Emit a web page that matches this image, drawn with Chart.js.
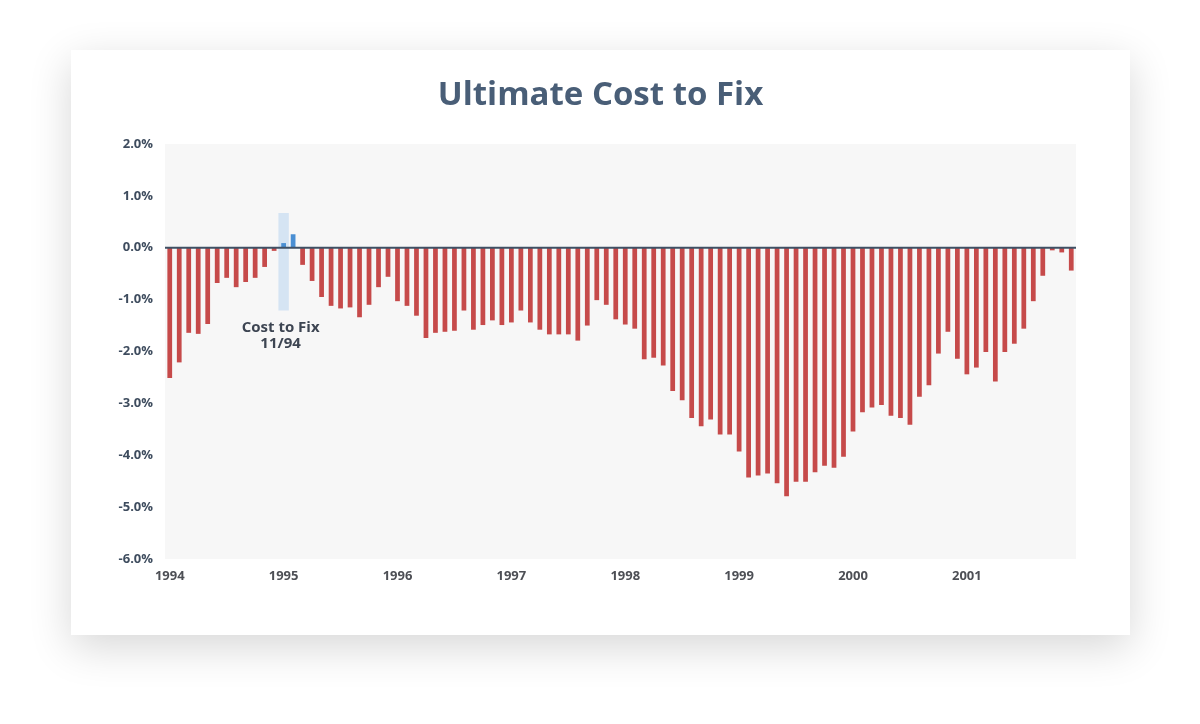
<!DOCTYPE html>
<html>
<head>
<meta charset="utf-8">
<title>Ultimate Cost to Fix</title>
<script src="https://cdn.jsdelivr.net/npm/chart.js@4.4.1/dist/chart.umd.min.js"></script>
<style>
    html, body { margin: 0; padding: 0; background: #ffffff; }
    body { width: 1200px; height: 724px; position: relative; overflow: hidden; }
    .card {
        position: absolute;
        left: 71px; top: 50px;
        width: 1059px; height: 585px;
        background: #ffffff;
        box-shadow: 0 12px 40px rgba(0, 0, 0, 0.16);
    }
    #costChart { display: block; }
</style>
</head>
<body>
<div class="card">
    <canvas id="costChart" width="1059" height="585"></canvas>
</div>
<script>
// Monthly, Jan 1994 .. Dec 2001
const years = ['1994', '1995', '1996', '1997', '1998', '1999', '2000', '2001'];
const months = years.flatMap(y => Array.from({ length: 12 }, (_, m) => (m + 1) + '/' + y));

// Cost to fix (%)
const costValues = [
    -2.51, -2.21, -1.64, -1.66, -1.47, -0.68, -0.58, -0.76, -0.66, -0.58, -0.37, -0.06,
     0.09,  0.26, -0.33, -0.64, -0.95, -1.12, -1.17, -1.15, -1.34, -1.10, -0.76, -0.56,
    -1.03, -1.12, -1.31, -1.74, -1.64, -1.62, -1.60, -1.21, -1.58, -1.49, -1.40, -1.49,
    -1.44, -1.21, -1.44, -1.58, -1.67, -1.67, -1.67, -1.79, -1.50, -1.01, -1.10, -1.38,
    -1.48, -1.56, -2.15, -2.12, -2.27, -2.76, -2.94, -3.28, -3.44, -3.31, -3.60, -3.60,
    -3.93, -4.43, -4.39, -4.35, -4.54, -4.79, -4.51, -4.51, -4.33, -4.20, -4.24, -4.03,
    -3.54, -3.17, -3.08, -3.03, -3.24, -3.28, -3.41, -2.87, -2.65, -2.04, -1.62, -2.14,
    -2.44, -2.31, -2.01, -2.58, -2.01, -1.85, -1.56, -1.03, -0.54, -0.05, -0.09, -0.44
];

// shaded band behind the "Cost to Fix 11/94" month
const highlightIndex = 12;
const highlightRange = [-1.21, 0.67];
const highlightData = months.map((_, i) => i === highlightIndex ? highlightRange : null);
const annotationLines = ['Cost to Fix', '11/94'];

const titleText = 'Ultimate Cost to Fix';
const yTicks = [2, 1, 0, -1, -2, -3, -4, -5, -6];

const RED = '#c64a4a';
const BLUE = '#4a8fd3';
const TICK_FONT = { family: "'Open Sans', sans-serif", size: 13, weight: '700' };

// light grey plot background
const plotBackground = {
    id: 'plotBackground',
    beforeDraw(chart) {
        const { ctx, chartArea: a } = chart;
        ctx.save();
        ctx.fillStyle = '#f7f7f7';
        ctx.fillRect(a.left, a.top, a.right - a.left, a.bottom - a.top);
        ctx.restore();
    }
};

// title centred on the whole card (the built-in one follows the side padding)
const cardTitle = {
    id: 'cardTitle',
    afterDraw(chart) {
        const { ctx, width } = chart;
        ctx.save();
        ctx.fillStyle = '#495e77';
        ctx.font = "700 33px 'Open Sans', sans-serif";
        ctx.textAlign = 'center';
        ctx.textBaseline = 'alphabetic';
        ctx.fillText(titleText, width / 2, 55);
        ctx.restore();
    }
};

// zero line on top of the bars + annotation text
const zeroAndNote = {
    id: 'zeroAndNote',
    afterDatasetsDraw(chart) {
        const { ctx, chartArea: a, scales } = chart;
        const y0 = scales.y.getPixelForValue(0);
        ctx.save();
        ctx.strokeStyle = '#3f5064';
        ctx.lineWidth = 2;
        ctx.beginPath();
        ctx.moveTo(a.left, y0);
        ctx.lineTo(a.right, y0);
        ctx.stroke();

        const x = scales.x.getPixelForValue(highlightIndex) - 3;
        const yTop = scales.y.getPixelForValue(highlightRange[0]) + 17;
        ctx.fillStyle = '#3d4552';
        ctx.font = "700 15px 'Open Sans', sans-serif";
        ctx.textAlign = 'center';
        ctx.textBaseline = 'middle';
        annotationLines.forEach((t, i) => ctx.fillText(t, x, yTop + i * 16));
        ctx.restore();
    }
};

new Chart(document.getElementById('costChart'), {
    type: 'bar',
    data: {
        labels: months,
        datasets: [{
            label: 'Cost to Fix',
            data: costValues,
            backgroundColor: costValues.map(v => v >= 0 ? BLUE : RED),
            categoryPercentage: 1,
            barPercentage: 0.5,
            grouped: false,
            order: 1
        }, {
            label: 'Highlight',
            data: highlightData,
            backgroundColor: '#d5e4f3',
            categoryPercentage: 1,
            barPercentage: 1.1,
            grouped: false,
            order: 2
        }]
    },
    options: {
        responsive: false,
        animation: false,
        layout: { padding: { left: 0, right: 54, top: 94, bottom: 0 } },
        plugins: {
            legend: { display: false },
            tooltip: { enabled: false },
            title: { display: false }
        },
        scales: {
            y: {
                min: -6,
                max: 2,
                afterFit(scale) { scale.width = 94; },
                afterBuildTicks(scale) { scale.ticks = yTicks.map(v => ({ value: v })); },
                grid: { display: false },
                border: { display: false },
                ticks: {
                    color: '#3e4c5e',
                    font: TICK_FONT,
                    padding: 4,
                    callback: v => v.toFixed(1) + '%'
                }
            },
            x: {
                afterFit(scale) { scale.height = 76; },
                grid: { display: false },
                border: { display: false },
                ticks: {
                    color: '#4d4f55',
                    font: TICK_FONT,
                    autoSkip: false,
                    maxRotation: 0,
                    padding: 1,
                    callback: (v, i) => i % 12 === 0 ? years[i / 12] : ''
                }
            }
        }
    },
    plugins: [plotBackground, cardTitle, zeroAndNote]
});
</script>
</body>
</html>
